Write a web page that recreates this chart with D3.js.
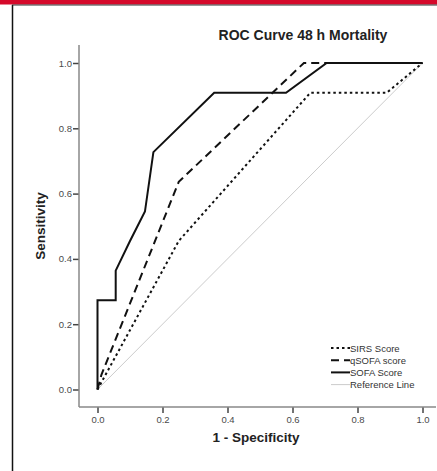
<!DOCTYPE html>
<html>
<head>
<meta charset="utf-8">
<script src="https://cdn.jsdelivr.net/npm/d3@7"></script>
<style>
  body { margin: 0; background: #fff; }
  text { font-family: Arial, "Liberation Sans", sans-serif; }
</style>
</head>
<body>
<div id="chart"></div>
<script>
// ROC curves
const sirsFpr = [0, 0.25, 0.655, 0.89, 1.0]
const sirsTpr = [0, 0.455, 0.909, 0.909, 1.0]
const qsofaFpr = [0, 0.012, 0.25, 0.635, 1.0]
const qsofaTpr = [0, 0.045, 0.636, 1.0, 1.0]
const sofaFpr = [0, 0, 0.056, 0.056, 0.1, 0.146, 0.172, 0.359, 0.58, 0.705, 1.0]
const sofaTpr = [0, 0.273, 0.273, 0.364, 0.455, 0.545, 0.727, 0.909, 0.909, 1.0, 1.0]
const refFpr = [0, 1]
const refTpr = [0, 1]
const tickValues = [0, 0.2, 0.4, 0.6, 0.8, 1.0]
const legendLabels = ['SIRS Score', 'qSOFA score', 'SOFA Score', 'Reference Line']

const width = 437
const height = 471

const svg = d3.select('#chart')
  .append('svg')
  .attr('width', width)
  .attr('height', height)

// frame: red strip on top, dark rule, left border
svg.append('rect').attr('x', 0).attr('y', 0).attr('width', width).attr('height', 4.5).attr('fill', '#d5092a')
svg.append('line').attr('x1', 12).attr('x2', width).attr('y1', 5).attr('y2', 5)
  .attr('stroke', '#333').attr('stroke-width', 1.2)
svg.append('line').attr('x1', 12.5).attr('x2', 12.5).attr('y1', 5).attr('y2', height)
  .attr('stroke', '#111').attr('stroke-width', 1.5)

const x = d3.scaleLinear().domain([0, 1]).range([97.5, 422.5])
const y = d3.scaleLinear().domain([0, 1]).range([389.5, 63])

// axes
const yAxis = svg.append('g')
  .attr('transform', 'translate(79,0)')
  .call(d3.axisLeft(y).tickValues(tickValues).tickFormat(d3.format('.1f')).tickSize(6).tickPadding(1))
const xAxis = svg.append('g')
  .attr('transform', 'translate(0,407)')
  .call(d3.axisBottom(x).tickValues(tickValues).tickFormat(d3.format('.1f')).tickSize(6).tickPadding(3))
yAxis.select('.domain').remove()
xAxis.select('.domain').remove()
svg.selectAll('.tick line').attr('stroke', '#444').attr('stroke-width', 1.5)
svg.selectAll('.tick text').attr('fill', '#4a4a4a').attr('font-size', '9.5px')
  .style('font-family', 'Arial, "Liberation Sans", sans-serif')

svg.append('line').attr('x1', 79).attr('x2', 79).attr('y1', 45).attr('y2', 407)
  .attr('stroke', '#888').attr('stroke-width', 1.5)
svg.append('line').attr('x1', 79).attr('x2', 436).attr('y1', 407).attr('y2', 407)
  .attr('stroke', '#888').attr('stroke-width', 1.5)

// titles
svg.append('text').attr('x', 303).attr('y', 40).attr('text-anchor', 'middle')
  .attr('font-size', '14px').attr('font-weight', 'bold').attr('fill', '#222')
  .text('ROC Curve 48 h Mortality')
svg.append('text').attr('x', 256).attr('y', 442).attr('text-anchor', 'middle')
  .attr('font-size', '13.5px').attr('font-weight', 'bold').attr('fill', '#222')
  .text('1 - Specificity')
svg.append('text').attr('transform', 'translate(45,226) rotate(-90)').attr('text-anchor', 'middle')
  .attr('font-size', '13.5px').attr('font-weight', 'bold').attr('fill', '#222')
  .text('Sensitivity')

// curves
const line = d3.line().x(d => x(d[0])).y(d => y(d[1]))
const series = [
  { fpr: refFpr, tpr: refTpr, stroke: '#ccc', width: 1, dash: null },
  { fpr: sirsFpr, tpr: sirsTpr, stroke: '#111', width: 2, dash: '2.5,3' },
  { fpr: qsofaFpr, tpr: qsofaTpr, stroke: '#111', width: 2, dash: '8,5' },
  { fpr: sofaFpr, tpr: sofaTpr, stroke: '#111', width: 2, dash: null }
]
series.forEach(s => {
  svg.append('path')
    .datum(d3.zip(s.fpr, s.tpr))
    .attr('d', line)
    .attr('fill', 'none')
    .attr('stroke', s.stroke)
    .attr('stroke-width', s.width)
    .attr('stroke-dasharray', s.dash)
})

// legend
const legendStyles = [series[1], series[2], series[3], series[0]]
const legend = svg.append('g')
legendLabels.forEach((name, i) => {
  const ly = 348 + i * 12.2
  const st = legendStyles[i]
  legend.append('line').attr('x1', 331).attr('x2', 350).attr('y1', ly).attr('y2', ly)
    .attr('stroke', st.stroke).attr('stroke-width', st.width).attr('stroke-dasharray', st.dash)
  legend.append('text').attr('x', 350).attr('y', ly + 3.5).attr('font-size', '9.5px').attr('fill', '#333')
    .text(name)
})
</script>
</body>
</html>
